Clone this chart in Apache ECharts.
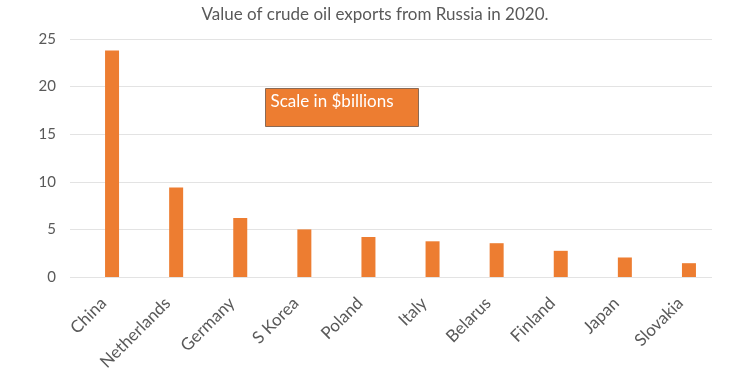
<!DOCTYPE html>
<html>
<head>
<meta charset="utf-8">
<script src="https://cdn.jsdelivr.net/npm/echarts@6/dist/echarts.min.js"></script>
<style>html,body{margin:0;padding:0;background:#fff;}#c{width:750px;height:375px;}</style>
</head>
<body>
<div id="c"></div>
<script>
const titleText = "Value of crude oil exports from Russia in 2020.";
const categories = ["China","Netherlands","Germany","S Korea","Poland","Italy","Belarus","Finland","Japan","Slovakia"];
const values = [23.8, 9.4, 6.2, 5.0, 4.2, 3.75, 3.55, 2.75, 2.05, 1.45];
const noteText = "Scale in $billions";
const yMin = 0, yMax = 25, yStep = 5;

const chart = echarts.init(document.getElementById('c'));
chart.setOption({
  backgroundColor: '#fff',
  animation: false,
  textStyle: { fontFamily: 'Lato' },
  title: {
    text: titleText, left: 'center', top: 1,
    textStyle: { fontFamily: 'Lato', fontSize: 17, fontWeight: 'normal', color: '#595959' }
  },
  grid: [
    { left: 80, right: 29, top: 39, bottom: 98 },
    { left: 70, right: 38, top: 39, bottom: 98 }
  ],
  xAxis: [{
    gridIndex: 0, type: 'category', data: categories,
    axisLine: { show: false },
    axisTick: { show: false },
    axisLabel: { rotate: 45, fontSize: 17, color: '#595959', margin: 15, padding: [0, 12, 0, 0], interval: 0, fontFamily: 'Lato' }
  }, {
    gridIndex: 1, type: 'category', data: categories, show: false
  }],
  yAxis: [{
    gridIndex: 0, type: 'value', min: yMin, max: yMax, interval: yStep, show: false,
    splitLine: { show: false }
  }, {
    gridIndex: 1, type: 'value', min: yMin, max: yMax, interval: yStep,
    axisLine: { show: false }, axisTick: { show: false },
    axisLabel: { fontSize: 15, color: '#595959', margin: 14, fontFamily: 'Lato' },
    splitLine: { lineStyle: { color: '#e3e3e3' } }
  }],
  series: [{
    type: 'bar', data: values, barWidth: 14, xAxisIndex: 0, yAxisIndex: 0,
    itemStyle: { color: '#ED7D31' }
  }],
  graphic: [{
    type: 'group', left: 265, top: 88,
    children: [
      { type: 'rect', shape: { x: 0, y: 0, width: 153, height: 38 },
        style: { fill: '#ED7D31', stroke: '#8a6a55', lineWidth: 1 } },
      { type: 'text', x: 5, y: 5,
        style: { text: noteText, fill: '#fff', fontSize: 17, fontFamily: 'Lato' } }
    ]
  }]
});
</script>
</body>
</html>
